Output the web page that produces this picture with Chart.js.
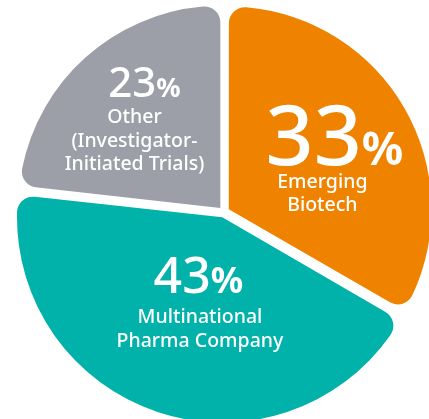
<!DOCTYPE html>
<html>
<head>
<meta charset="utf-8">
<script src="https://cdn.jsdelivr.net/npm/chart.js@4.4.0/dist/chart.umd.min.js"></script>
<style>
  html, body { margin: 0; padding: 0; background: #fff; }
  #wrap { width: 429px; height: 419px; position: relative; }
</style>
</head>
<body>
<div id="wrap"><canvas id="pieChart"></canvas></div>
<script>
const categories = ['Emerging Biotech', 'Multinational Pharma Company', 'Other (Investigator-Initiated Trials)'];
const shares = [33, 43, 23];
const shareText = ['33', '43', '23'];
const labelLines = [
  ['Emerging', 'Biotech'],
  ['Multinational', 'Pharma Company'],
  ['Other', '(Investigator-', 'Initiated Trials)']
];
const sliceColors = ['#EF8300', '#00B2AA', '#9D9FA8'];

// label placement per slice: fraction of radius, turn off the bisector (deg), font sizes
const labelSpots = [
  { r: 0.54, turn: 4.4, numSize: 84, pctSize: 46, numDx: 12, firstGap: 23 },
  { r: 0.42, turn: -1.7, numSize: 50, pctSize: 36, numDx: -1.5, firstGap: 30 },
  { r: 0.72, turn: 3.8, numSize: 42, pctSize: 27, numDx: 10, firstGap: 26 }
];
const FONT = '"Noto Sans", "Open Sans", sans-serif';

const sliceLabels = {
  id: 'sliceLabels',
  afterDatasetsDraw(chart) {
    const ctx = chart.ctx;
    const arcs = chart.getDatasetMeta(0).data;
    ctx.save();
    ctx.fillStyle = '#fff';
    ctx.textBaseline = 'alphabetic';
    arcs.forEach((arc, i) => {
      const p = arc.getProps(['x', 'y', 'startAngle', 'endAngle', 'outerRadius'], true);
      const spot = labelSpots[i];
      const mid = (p.startAngle + p.endAngle) / 2 + spot.turn * Math.PI / 180;
      const ax = p.x + Math.cos(mid) * spot.r * p.outerRadius;
      const ay = p.y + Math.sin(mid) * spot.r * p.outerRadius;

      // big number + smaller percent sign
      ctx.font = '500 ' + spot.numSize + 'px ' + FONT;
      const wNum = ctx.measureText(shareText[i]).width;
      ctx.font = '700 ' + spot.pctSize + 'px ' + FONT;
      const wPct = ctx.measureText('%').width;
      let x0 = ax + spot.numDx - (wNum + wPct) / 2;
      ctx.textAlign = 'left';
      ctx.font = '500 ' + spot.numSize + 'px ' + FONT;
      ctx.fillText(shareText[i], x0, ay);
      ctx.font = '700 ' + spot.pctSize + 'px ' + FONT;
      ctx.fillText('%', x0 + wNum, ay);

      ctx.textAlign = 'center';
      ctx.font = '500 19.5px ' + FONT;
      labelLines[i].forEach((line, k) => {
        ctx.fillText(line, ax, ay + spot.firstGap + k * 23.5);
      });
    });
    ctx.restore();
  }
};

new Chart(document.getElementById('pieChart'), {
  type: 'pie',
  data: {
    labels: categories,
    datasets: [{
      data: shares,
      backgroundColor: sliceColors,
      borderWidth: 0,
      borderRadius: 16,
      offset: 22
    }]
  },
  options: {
    responsive: true,
    maintainAspectRatio: false,
    animation: false,
    events: [],
    radius: 202,
    layout: { padding: { left: 19, right: 0, top: 5, bottom: 0 } },
    plugins: {
      legend: { display: false },
      tooltip: { enabled: false }
    }
  },
  plugins: [sliceLabels]
});
</script>
</body>
</html>
